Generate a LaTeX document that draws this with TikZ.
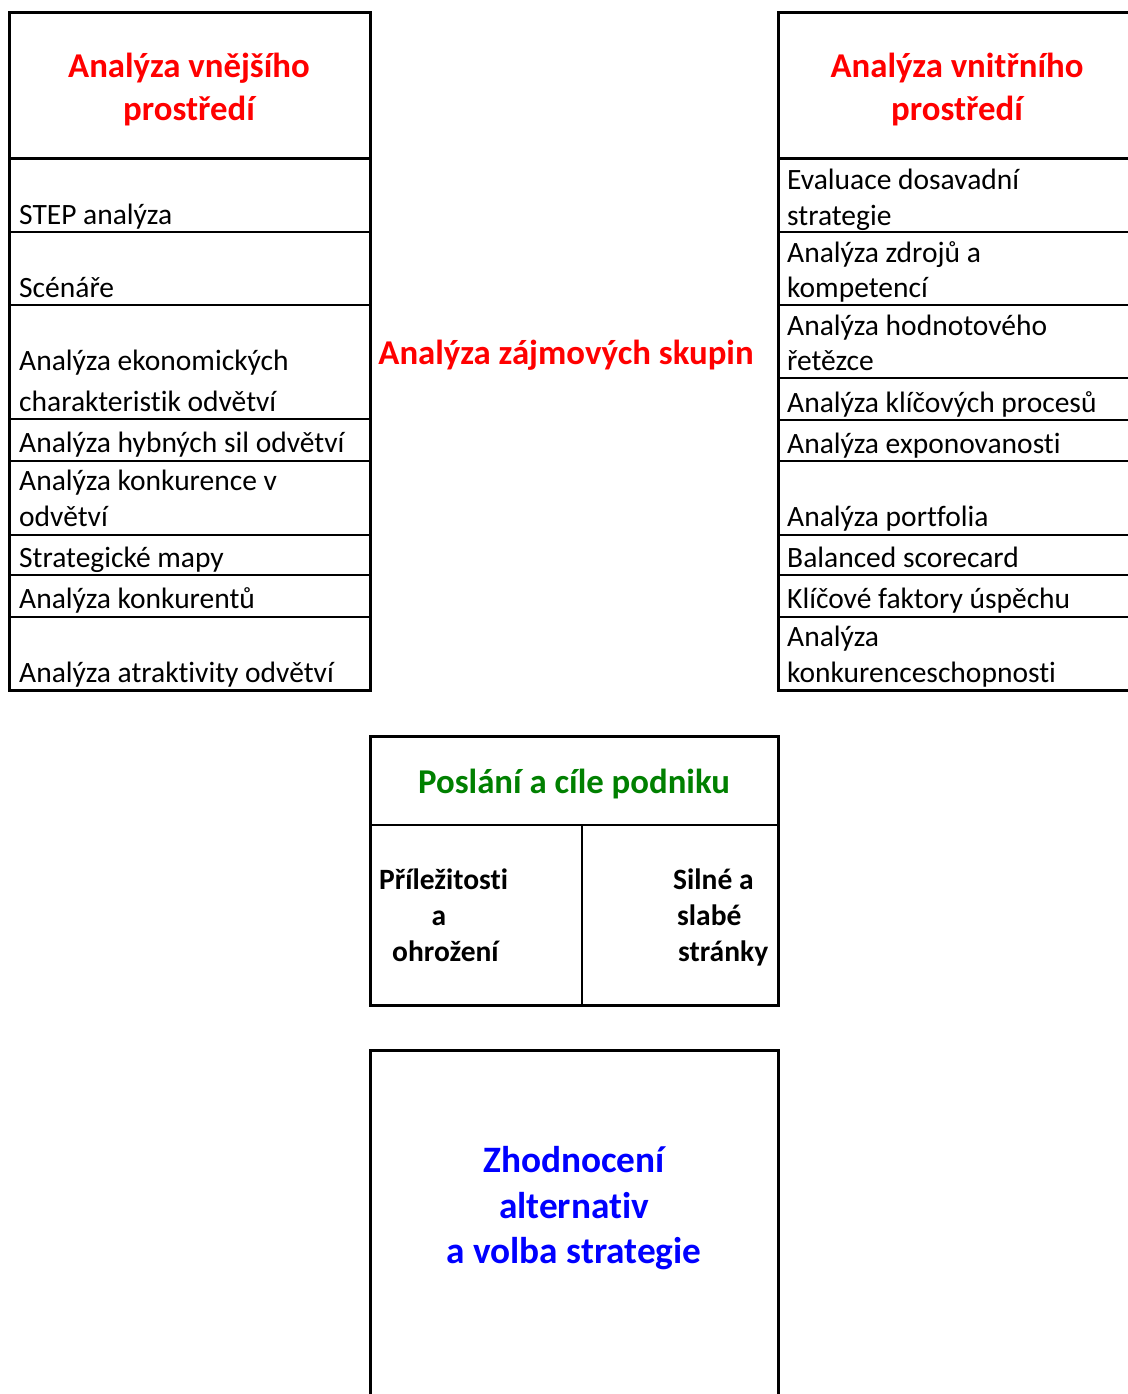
\documentclass[tikz,border=0pt]{standalone}
\usepackage{fontspec}
\setmainfont{Carlito}[Ligatures=NoCommon]
\usepackage{xcolor}
\usetikzlibrary{positioning}

\definecolor{titlered}{RGB}{255,0,0}
\definecolor{missiongreen}{RGB}{0,128,0}
\definecolor{choiceblue}{RGB}{0,0,255}

\tikzset{
	frame/.style={black, line width=3pt, line join=miter},
	rowline/.style={black, line width=2pt},
	item/.style={anchor=base west, inner sep=0pt, font=\fontsize{29.5}{35}\selectfont},
	head/.style={anchor=base, inner sep=0pt, font=\bfseries\fontsize{34.8}{40}\selectfont},
	swot/.style={anchor=base west, inner sep=0pt, font=\bfseries\fontsize{29.5}{35}\selectfont}
}

\begin{document}
\begin{tikzpicture}[
				x=1pt,y=-1pt,
				line cap=rect
				]
				\useasboundingbox (0,0) rectangle (1127,1394);
				
				% ---- parameters
				\def\lx{9}       % left table, left edge
				\def\lxr{370}    % left table, right edge
				\def\rx{778}     % right table, left edge
				\def\top{13}
				\def\hdr{158}    % header bottom
				\def\bot{690}
				
				% ---- left table (external environment)
				\draw[frame] (\lx,\top) rectangle (\lxr,\bot);
				\draw[frame] (\lx,\hdr) -- (\lxr,\hdr);
				\foreach \y in {232,305,419,461,535,575,617}{
					\draw[rowline] (\lx,\y) -- (\lxr,\y);
				}
				\node[head, text=titlered] (exthead1) at (189,78) {Analýza vnějšího};
				\node[head, text=titlered] (exthead2) at (189,121) {prostředí};
				\foreach \yb/\txt [count=\k] in {
					224/{STEP analýza},
					297/{Scénáře},
					370/{Analýza ekonomických},
					411/{charakteristik odvětví},
					452/{Analýza hybných sil odvětví},
					490/{Analýza konkurence v},
					526/{odvětví},
					567/{Strategické mapy},
					608/{Analýza konkurentů},
					682/{Analýza atraktivity odvětví}}{
					\node[item] (ext\k) at (19,\yb) {\txt};
				}
				
				% ---- right table (internal environment), cut at the page edge
				\draw[frame] (1135,\top) -| (\rx,\bot) -- (1135,\bot);
				\draw[frame] (\rx,\hdr) -- (1135,\hdr);
				\foreach \y in {232,305,378,420,461,535,575,617}{
					\draw[rowline] (\rx,\y) -- (1135,\y);
				}
				\node[head, text=titlered] (inthead1) at (957,78) {Analýza vnitřního};
				\node[head, text=titlered] (inthead2) at (957,121) {prostředí};
				\foreach \yb/\txt [count=\k] in {
					189/{Evaluace dosavadní},
					225/{strategie},
					262/{Analýza zdrojů a},
					297/{kompetencí},
					335/{Analýza hodnotového},
					370/{řetězce},
					412/{Analýza klíčových procesů},
					453/{Analýza exponovanosti},
					526/{Analýza portfolia},
					567/{Balanced scorecard},
					608/{Klíčové faktory úspěchu},
					646/{Analýza},
					682/{konkurenceschopnosti}}{
					\node[item] (int\k) at (787,\yb) {\txt};
				}
				
				% ---- stakeholders
				\node[head, text=titlered] (stake) at (566,364) {Analýza zájmových skupin};
				
				% ---- mission box with SWOT halves
				\draw[frame] (\lxr,736) rectangle (\rx,1005);
				\draw[rowline] (\lxr,825) -- (\rx,825);
				\draw[rowline] (582,825) -- (582,1005);
				\node[head, text=missiongreen] (mission) at (574,793) {Poslání a cíle podniku};
				\node[swot] (ot1) at (379,889) {Příležitosti};
				\node[swot, anchor=base] (ot2) at (439,925) {a};
				\node[swot] (ot3) at (392,961) {ohrožení};
				\node[swot] (sw1) at (673,889) {Silné a};
				\node[swot] (sw2) at (677,925) {slabé};
				\node[swot] (sw3) at (678,961) {stránky};
				
				% ---- strategy choice box, cut at the page bottom
				\draw[frame] (\lxr,1400) |- (\rx,1050) -- (\rx,1400);
				\node[head, text=choiceblue, font=\bfseries\fontsize{37.3}{44}\selectfont] (choice1) at (574,1172) {Zhodnocení};
				\node[head, text=choiceblue, font=\bfseries\fontsize{37.3}{44}\selectfont] (choice2) at (574,1218) {alternativ};
				\node[head, text=choiceblue, font=\bfseries\fontsize{37.3}{44}\selectfont] (choice3) at (574,1263) {a volba strategie};
			\end{tikzpicture}
\end{document}
